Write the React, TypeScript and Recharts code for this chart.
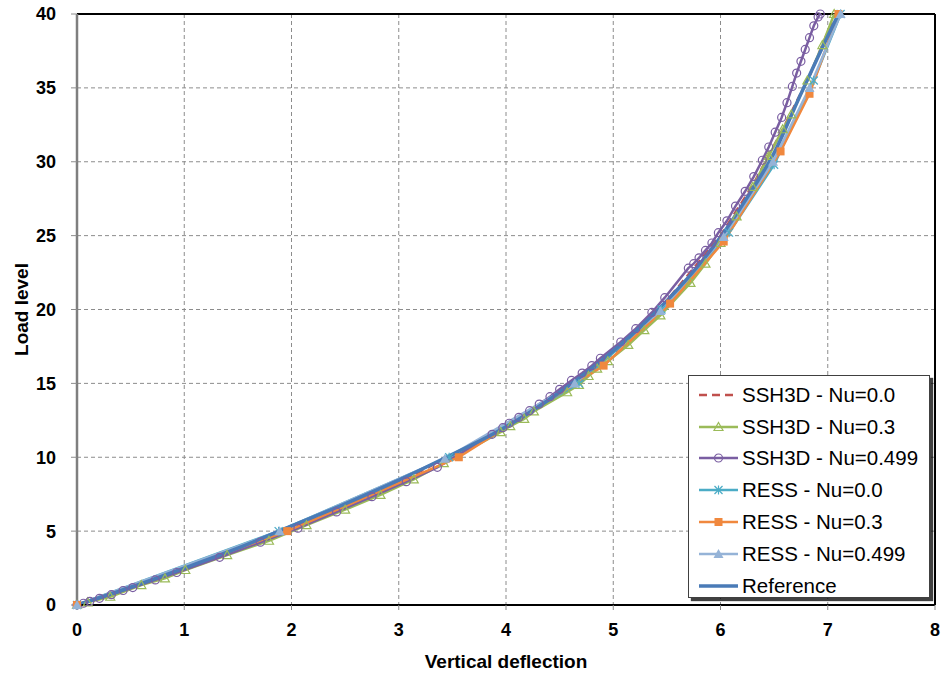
import React from "react";
import {
  CartesianGrid,
  Legend,
  Line,
  LineChart,
  ReferenceLine,
  XAxis,
  YAxis
} from "recharts";

// deflection (x) vs load level (y)
const ssh3dNu00 = [
  { x: 0, y: 0 }, { x: 1, y: 2.4 }, { x: 2, y: 5.2 }, { x: 3, y: 8.3 }, { x: 4, y: 12.0 },
  { x: 5, y: 17.0 }, { x: 5.5, y: 20.6 }, { x: 6, y: 25.0 }, { x: 6.3, y: 28.4 },
  { x: 6.58, y: 32.2 }, { x: 6.83, y: 35.8 }, { x: 7.07, y: 40 }
];

const ssh3dNu03 = [
  { x: 0, y: 0 }, { x: 0.1, y: 0.18 }, { x: 0.31, y: 0.56 }, { x: 0.6, y: 1.35 }, { x: 0.82, y: 1.8 },
  { x: 1.01, y: 2.37 }, { x: 1.4, y: 3.38 }, { x: 1.79, y: 4.35 }, { x: 2.14, y: 5.4 }, { x: 2.5, y: 6.45 },
  { x: 2.83, y: 7.45 }, { x: 3.14, y: 8.5 }, { x: 3.42, y: 9.6 }, { x: 3.95, y: 11.7 }, { x: 4.04, y: 12.1 },
  { x: 4.17, y: 12.6 }, { x: 4.26, y: 13.1 }, { x: 4.57, y: 14.4 }, { x: 4.68, y: 14.9 }, { x: 4.77, y: 15.5 },
  { x: 4.85, y: 16.0 }, { x: 4.95, y: 16.5 }, { x: 5.14, y: 17.6 }, { x: 5.29, y: 18.6 }, { x: 5.44, y: 19.6 },
  { x: 5.72, y: 21.8 }, { x: 5.86, y: 23.1 }, { x: 6.0, y: 24.5 }, { x: 6.15, y: 26.3 }, { x: 6.3, y: 28.3 },
  { x: 6.45, y: 30.4 }, { x: 6.58, y: 32.2 }, { x: 6.66, y: 33.2 }, { x: 6.81, y: 35.5 }, { x: 6.95, y: 37.9 },
  { x: 7.06, y: 40 }
];

const ssh3dNu0499 = [
  { x: 0, y: 0 }, { x: 0.06, y: 0.12 }, { x: 0.12, y: 0.25 }, { x: 0.21, y: 0.45 }, { x: 0.32, y: 0.7 },
  { x: 0.43, y: 0.98 }, { x: 0.52, y: 1.18 }, { x: 0.73, y: 1.7 }, { x: 0.93, y: 2.2 }, { x: 1.33, y: 3.23 },
  { x: 1.71, y: 4.25 }, { x: 2.06, y: 5.2 }, { x: 2.42, y: 6.3 }, { x: 2.75, y: 7.33 }, { x: 3.07, y: 8.35 },
  { x: 3.36, y: 9.32 }, { x: 3.87, y: 11.55 }, { x: 3.97, y: 12.0 }, { x: 4.03, y: 12.3 }, { x: 4.12, y: 12.7 },
  { x: 4.22, y: 13.15 }, { x: 4.31, y: 13.6 }, { x: 4.41, y: 14.1 }, { x: 4.5, y: 14.6 }, { x: 4.61, y: 15.2 },
  { x: 4.71, y: 15.7 }, { x: 4.8, y: 16.2 }, { x: 4.88, y: 16.7 }, { x: 5.07, y: 17.8 }, { x: 5.21, y: 18.7 },
  { x: 5.36, y: 19.8 }, { x: 5.48, y: 20.8 }, { x: 5.7, y: 22.8 }, { x: 5.75, y: 23.1 }, { x: 5.8, y: 23.5 },
  { x: 5.86, y: 24.0 }, { x: 5.92, y: 24.5 }, { x: 5.98, y: 25.2 }, { x: 6.06, y: 26.0 }, { x: 6.14, y: 27.0 },
  { x: 6.23, y: 28.0 }, { x: 6.31, y: 29.0 }, { x: 6.39, y: 30.1 }, { x: 6.45, y: 31.0 }, { x: 6.51, y: 32.0 },
  { x: 6.57, y: 33.0 }, { x: 6.62, y: 34.0 }, { x: 6.67, y: 35.1 }, { x: 6.71, y: 36.0 }, { x: 6.75, y: 36.8 },
  { x: 6.79, y: 37.6 }, { x: 6.83, y: 38.4 }, { x: 6.87, y: 39.2 }, { x: 6.91, y: 39.8 }, { x: 6.93, y: 40 }
];

const ressNu00 = [
  { x: 0, y: 0 }, { x: 1.88, y: 5.0 }, { x: 3.47, y: 10.0 }, { x: 4.68, y: 15.0 }, { x: 5.45, y: 20.0 },
  { x: 6.08, y: 25.2 }, { x: 6.5, y: 29.8 }, { x: 6.87, y: 35.5 }, { x: 7.12, y: 40 }
];

const ressNu03 = [
  { x: 0, y: 0 }, { x: 1.96, y: 5.0 }, { x: 3.56, y: 10.0 }, { x: 4.91, y: 16.2 }, { x: 5.53, y: 20.4 },
  { x: 6.03, y: 24.6 }, { x: 6.56, y: 30.7 }, { x: 6.83, y: 34.6 }, { x: 7.1, y: 40 }
];

const ressNu0499 = [
  { x: 0, y: 0 }, { x: 1.89, y: 5.0 }, { x: 3.43, y: 9.9 }, { x: 4.64, y: 15.0 }, { x: 5.44, y: 19.9 },
  { x: 6.03, y: 24.9 }, { x: 6.49, y: 30.0 }, { x: 6.83, y: 35.0 }, { x: 7.12, y: 40 }
];

const reference = [
  { x: 0, y: 0 }, { x: 0.5, y: 1.2 }, { x: 1, y: 2.5 }, { x: 1.5, y: 3.85 }, { x: 2, y: 5.35 },
  { x: 2.5, y: 6.85 }, { x: 3, y: 8.45 }, { x: 3.5, y: 10.2 }, { x: 4, y: 12.05 }, { x: 4.5, y: 14.4 },
  { x: 5, y: 17.2 }, { x: 5.25, y: 18.8 }, { x: 5.5, y: 20.6 }, { x: 5.75, y: 22.6 }, { x: 6, y: 24.9 },
  { x: 6.25, y: 27.6 }, { x: 6.5, y: 30.6 }, { x: 6.75, y: 34.6 }, { x: 7.0, y: 38.5 }, { x: 7.1, y: 40 }
];

const xTicks = [0, 1, 2, 3, 4, 5, 6, 7, 8];
const yTicks = [0, 5, 10, 15, 20, 25, 30, 35, 40];

const C = {
  red: "#C0504D",
  green: "#9BBB59",
  purple: "#7A5EA2",
  teal: "#4BACC6",
  orange: "#F0883E",
  light: "#95B3D7",
  ref: "#4A7BB7"
};

const FONT = "'Liberation Sans', Arial, sans-serif";

type Shape = "none" | "triOpen" | "circle" | "star" | "square" | "triFill";

function Marker({ shape, color, cx, cy }: { shape: Shape; color: string; cx: number; cy: number }) {
  if (shape === "triOpen")
    return <polygon points={`${cx},${cy - 4.5} ${cx + 4.5},${cy + 3.5} ${cx - 4.5},${cy + 3.5}`} fill="none" stroke={color} strokeWidth={1.2} />;
  if (shape === "circle") return <circle cx={cx} cy={cy} r={4} fill="none" stroke={color} strokeWidth={1.2} />;
  if (shape === "square") return <rect x={cx - 4} y={cy - 4} width={8} height={8} fill={color} />;
  if (shape === "triFill")
    return <polygon points={`${cx},${cy - 5} ${cx + 5},${cy + 4} ${cx - 5},${cy + 4}`} fill={color} />;
  if (shape === "star")
    return (
      <g stroke={color} strokeWidth={1.2}>
        <line x1={cx - 4} y1={cy - 4} x2={cx + 4} y2={cy + 4} />
        <line x1={cx - 4} y1={cy + 4} x2={cx + 4} y2={cy - 4} />
        <line x1={cx} y1={cy - 4.5} x2={cx} y2={cy + 4.5} />
      </g>
    );
  return null;
}

const dotOf = (shape: Shape, color: string) => (p: any) => (
  <g key={`${shape}-${p.index}`}>
    <Marker shape={shape} color={color} cx={p.cx} cy={p.cy} />
  </g>
);

const series = [
  { name: "SSH3D - Nu=0.0", data: ssh3dNu00, color: C.red, shape: "none" as Shape, dash: "8 5", w: 2.5 },
  { name: "SSH3D - Nu=0.3", data: ssh3dNu03, color: C.green, shape: "triOpen" as Shape, w: 2.5 },
  { name: "SSH3D - Nu=0.499", data: ssh3dNu0499, color: C.purple, shape: "circle" as Shape, w: 2.5 },
  { name: "RESS - Nu=0.0", data: ressNu00, color: C.teal, shape: "star" as Shape, w: 2.5 },
  { name: "RESS - Nu=0.3", data: ressNu03, color: C.orange, shape: "square" as Shape, w: 2.5 },
  { name: "RESS - Nu=0.499", data: ressNu0499, color: C.light, shape: "triFill" as Shape, w: 2.5 },
  { name: "Reference", data: reference, color: C.ref, shape: "none" as Shape, w: 3.5, smooth: true }
];

function LegendBox() {
  return (
    <div
      style={{
        width: 242,
        height: 223,
        border: "1.5px solid #404040",
        boxShadow: "3px 3px 1px rgba(0,0,0,0.75)",
        background: "#fff",
        boxSizing: "border-box",
        padding: "3px 0 0 9px",
        fontFamily: FONT,
        fontSize: 20.5,
        color: "#000"
      }}
    >
      {series.map((s) => (
        <div key={s.name} style={{ height: 31.8, display: "flex", alignItems: "center" }}>
          <svg width={44} height={14} style={{ flex: "none" }}>
            <line x1={1} y1={7} x2={40} y2={7} stroke={s.color} strokeWidth={s.w} strokeDasharray={s.dash} />
            <Marker shape={s.shape} color={s.color} cx={20.5} cy={7} />
          </svg>
          <span style={{ whiteSpace: "nowrap" }}>{s.name}</span>
        </div>
      ))}
    </div>
  );
}

function YTitle(props: any) {
  const { viewBox } = props;
  const x = viewBox.x + 21;
  const y = viewBox.y + viewBox.height / 2;
  return (
    <text x={x} y={y} transform={`rotate(-90 ${x} ${y})`} textAnchor="middle" dominantBaseline="central"
      fontFamily={FONT} fontWeight="bold" fontSize={19} fill="#000">
      Load level
    </text>
  );
}

const tickStyle = { fontFamily: FONT, fontWeight: "bold" as const, fontSize: 18, fill: "#000" };

export default function App() {
  return (
    <div style={{ position: "absolute", left: 0, top: 0, width: 943, height: 675, background: "#fff" }}>
      <LineChart width={943} height={675} margin={{ top: 14, right: 8, bottom: 0, left: 0 }}>
        <CartesianGrid strokeDasharray="4 3" stroke="#8c8c8c" strokeWidth={1} />
        <XAxis
          type="number"
          dataKey="x"
          domain={[0, 8]}
          ticks={xTicks}
          height={70}
          tick={tickStyle}
          tickSize={5}
          tickMargin={13}
          tickLine={{ stroke: "#8c8c8c" }}
          axisLine={{ stroke: "#000", strokeWidth: 2 }}
          label={{ value: "Vertical deflection", position: "insideBottom", offset: 7, style: { ...tickStyle, fontSize: 19 } }}
        />
        <YAxis
          type="number"
          domain={[0, 40]}
          ticks={yTicks}
          width={77}
          tick={tickStyle}
          tickSize={6}
          tickMargin={15}
          tickLine={{ stroke: "#8c8c8c" }}
          axisLine={{ stroke: "#7f7f7f", strokeWidth: 2.5 }}
          label={<YTitle />}
        />
        <ReferenceLine y={40} stroke="#000" strokeWidth={2} />
        <ReferenceLine x={8} stroke="#000" strokeWidth={2} />
        {series.map((s) => (
          <Line
            key={s.name}
            data={s.data}
            dataKey="y"
            name={s.name}
            type={s.smooth ? "monotone" : "linear"}
            stroke={s.color}
            strokeWidth={s.w}
            strokeDasharray={s.dash}
            dot={s.shape === "none" ? false : dotOf(s.shape, s.color)}
            activeDot={false}
            isAnimationActive={false}
          />
        ))}
        <Legend
          layout="vertical"
          align="center"
          verticalAlign="middle"
          wrapperStyle={{ left: 688, top: 375, width: 246, height: 227 }}
          content={() => <LegendBox />}
        />
      </LineChart>
    </div>
  );
}
